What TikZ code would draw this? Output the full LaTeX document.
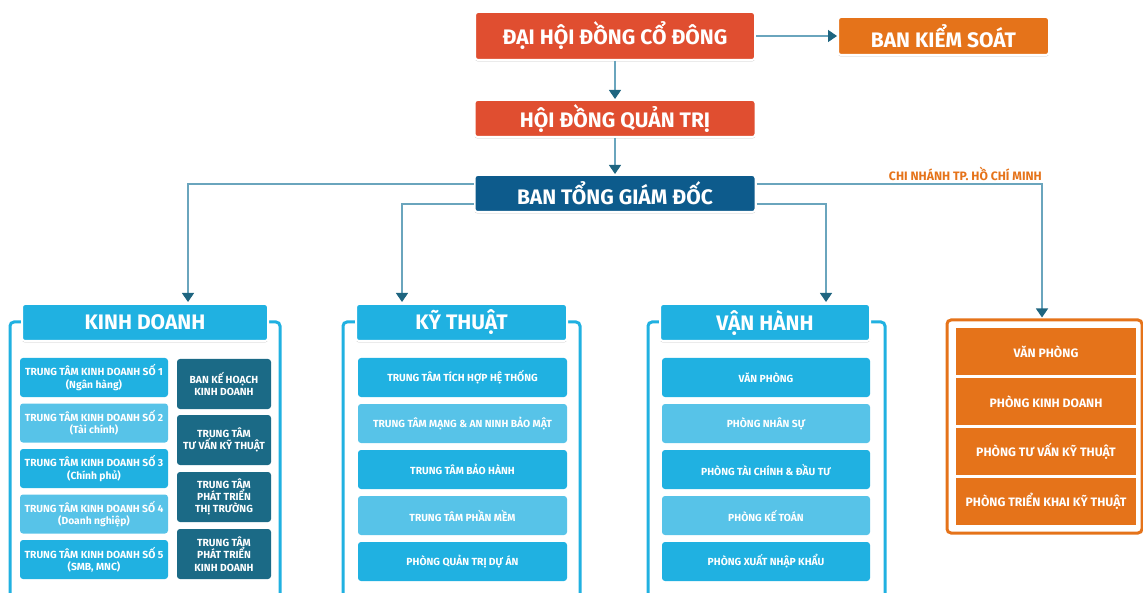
\documentclass[tikz,border=0pt]{standalone}
\usepackage{fontspec}
\setmainfont{Fira Sans}
\usetikzlibrary{arrows.meta,shadows}
\definecolor{redc}{HTML}{E04E30}
\definecolor{orc}{HTML}{E5731A}
\definecolor{navyc}{HTML}{0D5B8C}
\definecolor{cyanc}{HTML}{20B1E1}
\definecolor{lcyanc}{HTML}{57C3E8}
\definecolor{tealc}{HTML}{1B6A86}
\definecolor{linec}{HTML}{6AA5BD}
\definecolor{tipc}{HTML}{1E6580}
\begin{document}
\begin{tikzpicture}[x=1pt,y=-1pt,
  bigbox/.style={rectangle,rounded corners=3pt,draw=white,line width=2pt,inner sep=0pt,
    text=white,font=\bfseries\fontsize{21}{24}\selectfont,
    drop shadow={fill=black,opacity=0.22,shadow xshift=0pt,shadow yshift=-1.5pt}},
  hdr/.style={bigbox,fill=cyanc,minimum height=37pt},
  item/.style={rectangle,rounded corners=3pt,inner sep=0pt,text=white,align=center,
    font=\bfseries\fontsize{10.3}{12.2}\selectfont,minimum height=39pt},
  darkitem/.style={item,fill=tealc,minimum width=94pt,minimum height=50pt},
  oritem/.style={rectangle,fill=orc,inner sep=0pt,text=white,minimum width=180pt,
    minimum height=47pt,font=\bfseries\fontsize{12.2}{14}\selectfont},
  conn/.style={draw=linec,line width=1.3pt},
  arr/.style={conn,-{Triangle[width=12pt,length=9pt,color=tipc]}},
  frame/.style={draw=cyanc,line width=3pt,rounded corners=4pt}
]
\useasboundingbox (0,0) rectangle (1143,593);

% group frames
\draw[frame] (30,322) -| (10,596);
\draw[frame] (260,322) -| (280,596);
\draw[frame] (364,322) -| (343,596);
\draw[frame] (560,322) -| (580,596);
\draw[frame] (668,322) -| (648,596);
\draw[frame] (862,322) -| (885,596);

% top level
\node[bigbox,fill=redc,minimum width=280pt,minimum height=48pt] (dh) at (615,36) {ĐẠI HỘI ĐỒNG CỔ ĐÔNG};
\node[bigbox,fill=orc,minimum width=211pt,minimum height=38pt] (bks) at (943.5,36) {BAN KIỂM SOÁT};
\node[bigbox,fill=redc,minimum width=281pt,minimum height=37pt] (hd) at (615,118.5) {HỘI ĐỒNG QUẢN TRỊ};
\node[bigbox,fill=navyc,minimum width=281pt,minimum height=37pt] (bt) at (615,193.5) {BAN TỔNG GIÁM ĐỐC};

% headers
\node[hdr,minimum width=246pt] (kd) at (145,322.5) {KINH DOANH};
\node[hdr,minimum width=211pt] (kt) at (461.5,322.5) {KỸ THUẬT};
\node[hdr,minimum width=210pt] (vh) at (765,322.5) {VẬN HÀNH};

% branch frame
\node[draw=orc,line width=3pt,rounded corners=4pt,fill=white,minimum width=195pt,minimum height=213pt,inner sep=0pt] (cn) at (1044.5,426.5) {};
\node[text=orc,anchor=south east,inner sep=0pt,font=\bfseries\fontsize{12.2}{14}\selectfont] (cnlab) at (1042,181) {CHI NHÁNH TP. HỒ CHÍ MINH};

% connectors
\draw[arr] (dh.east) -- (bks.west);
\draw[arr] (dh.south) -- (hd.north);
\draw[arr] (hd.south) -- (bt.north);
\draw[arr] ([yshift=-10pt]bt.north west) -| ([xshift=43pt,yshift=1pt]kd.north);
\draw[arr] ([yshift=9pt]bt.south west) -| ([xshift=-59.5pt,yshift=1pt]kt.north);
\draw[arr] ([yshift=9pt]bt.south east) -| ([xshift=61pt,yshift=1pt]vh.north);
\draw[arr] ([yshift=-10pt]bt.north east) -| ([xshift=-2.5pt,yshift=1pt]cn.north);

% KINH DOANH items
\node[item,fill=cyanc,minimum width=148pt] (kd1) at (94,377.5) {TRUNG TÂM KINH DOANH SỐ 1\\(Ngân hàng)};
\node[item,fill=lcyanc,minimum width=148pt] (kd2) at (94,423) {TRUNG TÂM KINH DOANH SỐ 2\\(Tài chính)};
\node[item,fill=cyanc,minimum width=148pt] (kd3) at (94,468.5) {TRUNG TÂM KINH DOANH SỐ 3\\(Chính phủ)};
\node[item,fill=lcyanc,minimum width=148pt] (kd4) at (94,514) {TRUNG TÂM KINH DOANH SỐ 4\\(Doanh nghiệp)};
\node[item,fill=cyanc,minimum width=148pt] (kd5) at (94,559.5) {TRUNG TÂM KINH DOANH SỐ 5\\(SMB, MNC)};

\node[darkitem] (kr1) at (224,384) {BAN KẾ HOẠCH\\KINH DOANH};
\node[darkitem] (kr2) at (224,440) {TRUNG TÂM\\TƯ VẤN KỸ THUẬT};
\node[darkitem] (kr3) at (224,497) {TRUNG TÂM\\PHÁT TRIỂN\\THỊ TRƯỜNG};
\node[darkitem] (kr4) at (224,554) {TRUNG TÂM\\PHÁT TRIỂN\\KINH DOANH};

% KY THUAT items
\node[item,fill=cyanc,minimum width=209pt] (kt1) at (462.5,377.5) {TRUNG TÂM TÍCH HỢP HỆ THỐNG};
\node[item,fill=lcyanc,minimum width=209pt] (kt2) at (462.5,423.5) {TRUNG TÂM MẠNG \& AN NINH BẢO MẬT};
\node[item,fill=cyanc,minimum width=209pt] (kt3) at (462.5,469.5) {TRUNG TÂM BẢO HÀNH};
\node[item,fill=lcyanc,minimum width=209pt] (kt4) at (462.5,515.5) {TRUNG TÂM PHẦN MỀM};
\node[item,fill=cyanc,minimum width=209pt] (kt5) at (462.5,561.5) {PHÒNG QUẢN TRỊ DỰ ÁN};

% VAN HANH items
\node[item,fill=cyanc,minimum width=208pt] (vh1) at (766,377.5) {VĂN PHÒNG};
\node[item,fill=lcyanc,minimum width=208pt] (vh2) at (766,423.5) {PHÒNG NHÂN SỰ};
\node[item,fill=cyanc,minimum width=208pt] (vh3) at (766,469.5) {PHÒNG TÀI CHÍNH \& ĐẦU TƯ};
\node[item,fill=lcyanc,minimum width=208pt] (vh4) at (766,515.5) {PHÒNG KẾ TOÁN};
\node[item,fill=cyanc,minimum width=208pt] (vh5) at (766,561.5) {PHÒNG XUẤT NHẬP KHẨU};

% branch items
\node[oritem] (cn1) at (1046,351.5) {VĂN PHÒNG};
\node[oritem] (cn2) at (1046,401.5) {PHÒNG KINH DOANH};
\node[oritem] (cn3) at (1046,451.5) {PHÒNG TƯ VẤN KỸ THUẬT};
\node[oritem] (cn4) at (1046,501.5) {PHÒNG TRIỂN KHAI KỸ THUẬT};
\end{tikzpicture}
\end{document}
